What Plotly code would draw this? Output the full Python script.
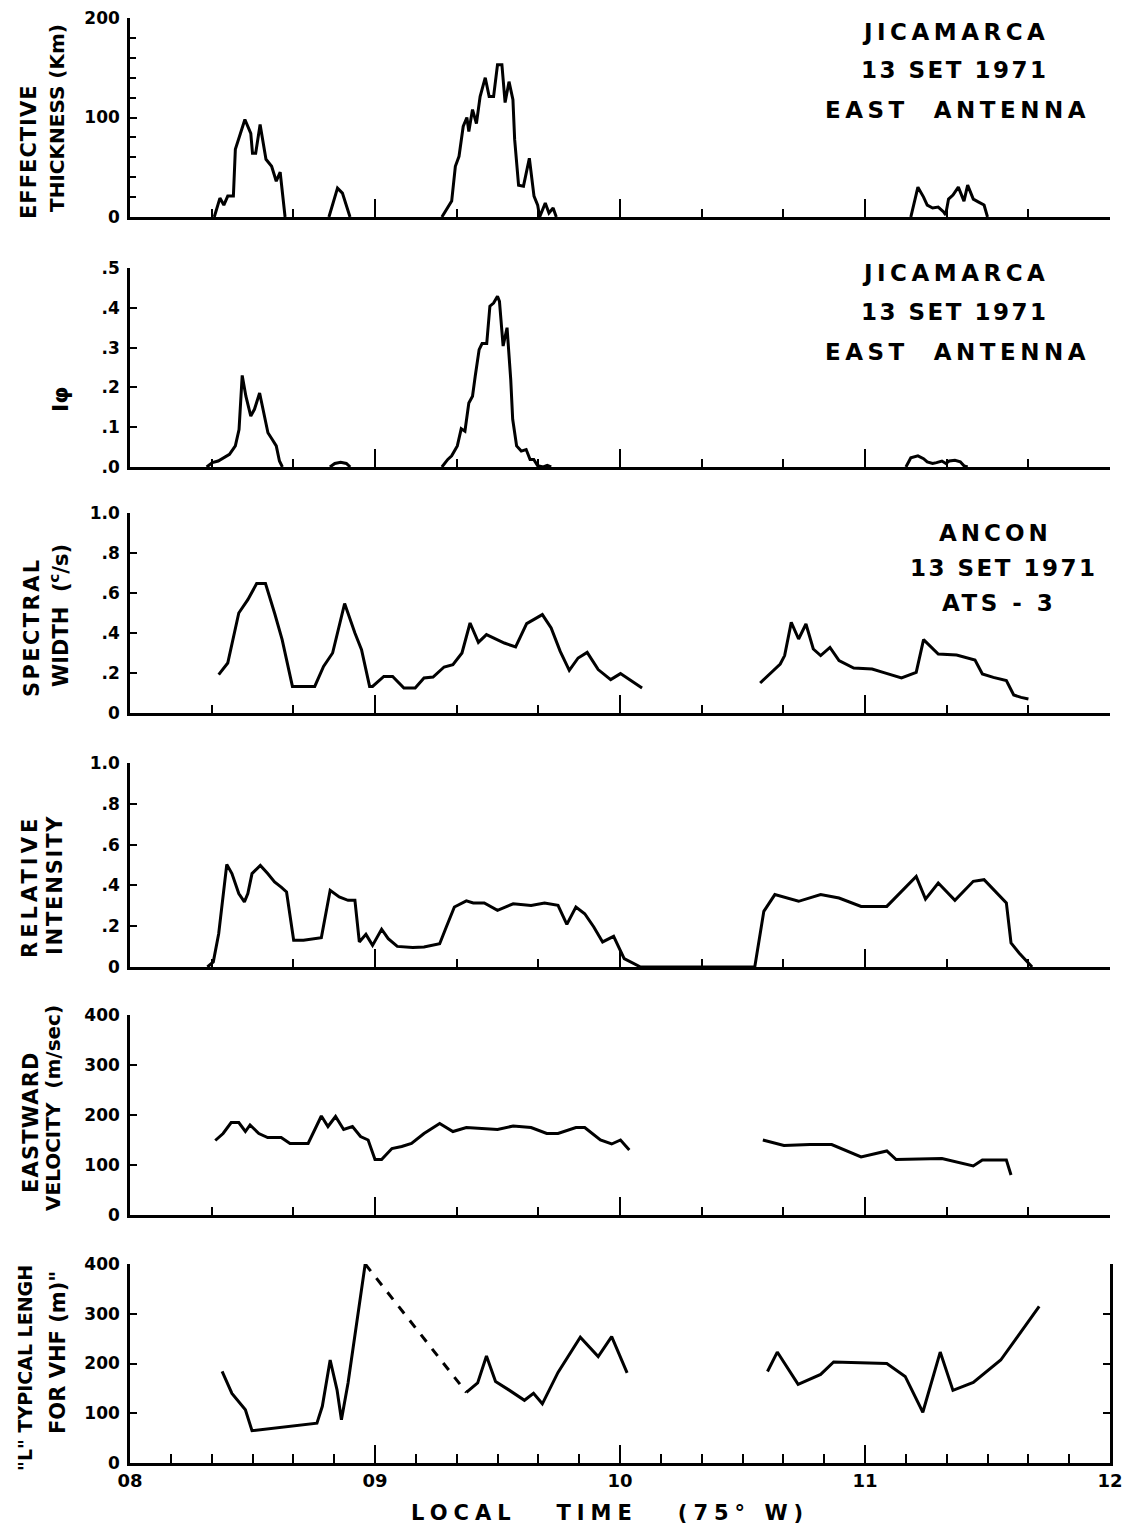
import plotly.graph_objects as go

# The page body keeps a default 8 px margin, so the figure is sized to fit inside it
PAGE_W, PAGE_H = 1136, 1535
OFF = 8
W, H = PAGE_W - 2 * OFF, PAGE_H - 2 * OFF
FONT = "DejaVu Sans"

def px(x):
    return (x - OFF) / W

def py(y):
    return 1 - (y - OFF) / H

# ---------------- DATA (local time in hours) ----------------
# Panel 1: Effective thickness (km), Jicamarca east antenna
thick_t = [8.344, 8.367, 8.383, 8.399, 8.422, 8.43, 8.469, 8.493, 8.5, 8.513, 8.531, 8.555, 8.578, 8.597, 8.613, 8.633,
           None,
           8.812, 8.847, 8.867, 8.898,
           None,
           9.273, 9.313, 9.328, 9.343, 9.36, 9.375, 9.383, 9.398, 9.414, 9.429, 9.45, 9.466, 9.484, 9.5, 9.518, 9.531,
           9.547, 9.563, 9.57, 9.586, 9.606, 9.63, 9.649, 9.664, 9.672, 9.695, 9.71, 9.727, 9.74,
           None,
           11.187, 11.216, 11.239, 11.254, 11.276, 11.299, 11.321, 11.329, 11.341, 11.359, 11.381, 11.404, 11.419,
           11.442, 11.464, 11.486, 11.5]
thick_v = [0, 19, 12, 21, 21, 68, 98, 84, 64, 64, 93, 58, 51, 36, 45, 0,
           None,
           0, 29, 24, 0,
           None,
           0, 16, 51, 61, 91, 100, 86, 108, 94, 121, 140, 121, 121, 153, 153, 115,
           136, 118, 78, 32, 31, 59, 21, 12, 0, 14, 4, 9, 0,
           None,
           0, 30, 20, 12, 9, 10, 5, 2, 18, 22, 30, 16, 32,
           18, 15, 12, 0]

# Panel 2: I-phi
iphi_t = [8.313, 8.336, 8.36, 8.383, 8.406, 8.43, 8.445, 8.458, 8.473, 8.493, 8.508, 8.529, 8.547, 8.563, 8.582,
          8.597, 8.61, 8.622,
          None,
          8.816, 8.836, 8.86, 8.883, 8.899,
          None,
          9.273, 9.297, 9.313, 9.336, 9.352, 9.367, 9.383, 9.398, 9.409, 9.425, 9.437, 9.456, 9.469, 9.484, 9.5,
          9.508, 9.523, 9.539, 9.554, 9.562, 9.578, 9.597, 9.617, 9.633, 9.648, 9.664, 9.687, 9.703, 9.719,
          None,
          11.167, 11.187, 11.216, 11.239, 11.254, 11.276, 11.292, 11.314, 11.33, 11.344, 11.367, 11.389, 11.404, 11.419]
iphi_v = [0, 0.011, 0.015, 0.023, 0.032, 0.053, 0.094, 0.23, 0.178, 0.128, 0.145, 0.186, 0.132, 0.086, 0.068,
          0.053, 0.015, 0,
          None,
          0, 0.009, 0.012, 0.009, 0,
          None,
          0, 0.019, 0.028, 0.053, 0.096, 0.09, 0.161, 0.178, 0.228, 0.295, 0.31, 0.31, 0.404, 0.412, 0.429,
          0.416, 0.304, 0.35, 0.22, 0.12, 0.053, 0.04, 0.044, 0.019, 0.019, 0.003, 0, 0.004, 0,
          None,
          0, 0.023, 0.028, 0.021, 0.013, 0.009, 0.011, 0.015, 0.009, 0.015, 0.017, 0.013, 0.003, 0]

# Panel 3: Spectral width (c/s), Ancon ATS-3
spec_t = [8.362, 8.399, 8.444, 8.481, 8.517, 8.553, 8.59, 8.621, 8.663, 8.754, 8.79, 8.827, 8.876, 8.918, 8.945,
          8.978, 8.99, 9.036, 9.072, 9.118, 9.164, 9.2, 9.237, 9.282, 9.318, 9.355, 9.388, 9.422, 9.455, 9.492,
          9.528, 9.574, 9.619, 9.683, 9.719, 9.756, 9.793, 9.829, 9.866, 9.911, 9.962, 10.002, 10.048, 10.09,
          None,
          10.572, 10.654, 10.672, 10.699, 10.729, 10.759, 10.789, 10.819, 10.857, 10.894, 10.954, 11.029, 11.074,
          11.149, 11.209, 11.239, 11.299, 11.374, 11.449, 11.479, 11.524, 11.577, 11.607, 11.637, 11.667]
spec_v = [0.192, 0.25, 0.5, 0.567, 0.647, 0.647, 0.5, 0.367, 0.133, 0.133, 0.233, 0.3, 0.547, 0.4, 0.317,
          0.133, 0.133, 0.183, 0.183, 0.125, 0.125, 0.175, 0.18, 0.23, 0.242, 0.3, 0.45, 0.353, 0.392, 0.37,
          0.35, 0.33, 0.447, 0.492, 0.425, 0.308, 0.213, 0.275, 0.303, 0.217, 0.167, 0.197, 0.158, 0.125,
          None,
          0.15, 0.245, 0.287, 0.453, 0.37, 0.445, 0.32, 0.287, 0.328, 0.262, 0.225, 0.22, 0.203,
          0.175, 0.203, 0.367, 0.295, 0.29, 0.265, 0.195, 0.178, 0.162, 0.09, 0.078, 0.07]

# Panel 4: Relative intensity
rel_t = [8.316, 8.34, 8.362, 8.395, 8.416, 8.444, 8.467, 8.481, 8.498, 8.532, 8.562, 8.59, 8.617, 8.639, 8.668,
         8.708, 8.781, 8.817, 8.854, 8.89, 8.918, 8.936, 8.963, 8.99, 9.027, 9.054, 9.091, 9.154, 9.2, 9.264,
         9.291, 9.324, 9.373, 9.401, 9.446, 9.5, 9.564, 9.637, 9.692, 9.747, 9.783, 9.82, 9.856, 9.893, 9.929,
         9.974, 10.017, 10.057, 10.084,
         10.55, 10.587, 10.632, 10.729, 10.819, 10.894, 10.984, 11.089, 11.209, 11.247, 11.299, 11.367, 11.442,
         11.486, 11.577, 11.596, 11.629, 11.682]
rel_v = [0, 0.025, 0.163, 0.503, 0.458, 0.36, 0.319, 0.36, 0.458, 0.498, 0.458, 0.417, 0.392, 0.368, 0.131,
         0.131, 0.144, 0.376, 0.343, 0.327, 0.327, 0.123, 0.16, 0.106, 0.185, 0.139, 0.101, 0.095, 0.098, 0.114,
         0.196, 0.294, 0.324, 0.314, 0.314, 0.278, 0.31, 0.302, 0.314, 0.302, 0.209, 0.294, 0.261, 0.196, 0.123,
         0.15, 0.041, 0.016, 0,
         0, 0.273, 0.355, 0.322, 0.355, 0.338, 0.297, 0.297, 0.444, 0.333, 0.412, 0.327, 0.42,
         0.428, 0.314, 0.118, 0.069, 0]

# Panel 5: Eastward velocity (m/sec)
vel_t = [8.348, 8.38, 8.413, 8.444, 8.471, 8.49, 8.526, 8.562, 8.617, 8.653, 8.727, 8.781, 8.808, 8.839, 8.872,
         8.908, 8.941, 8.972, 9.0, 9.027, 9.069, 9.109, 9.149, 9.2, 9.264, 9.318, 9.373, 9.455, 9.5, 9.564,
         9.637, 9.701, 9.747, 9.82, 9.856, 9.92, 9.966, 10.002, 10.038,
         None,
         10.583, 10.669, 10.775, 10.864, 10.984, 11.089, 11.127, 11.314, 11.442, 11.479, 11.577, 11.596]
vel_v = [149, 163, 185, 185, 167, 180, 163, 155, 155, 143, 143, 198, 177, 197, 171,
         177, 157, 150, 111, 111, 133, 137, 143, 163, 183, 167, 175, 173, 171, 178,
         175, 163, 163, 175, 175, 150, 142, 150, 130,
         None,
         150, 139, 141, 141, 116, 128, 111, 113, 98, 110, 110, 80]

# Panel 6: "L" typical length for VHF (m)
len_t = [8.376, 8.416, 8.471, 8.498, 8.763, 8.785, 8.817, 8.845, 8.863, 8.89, 8.96,
         None,
         9.373, 9.419, 9.455, 9.492, 9.546, 9.61, 9.647, 9.683, 9.747, 9.838, 9.911, 9.966, 10.029,
         None,
         10.602, 10.642, 10.727, 10.819, 10.872, 11.089, 11.164, 11.236, 11.307, 11.359, 11.442, 11.554,
         11.614, 11.711]
len_v = [184, 140, 107, 65, 80, 114, 207, 147, 87, 161, 400,
         None,
         142, 161, 215, 164, 147, 126, 140, 119, 182, 253, 214, 254, 181,
         None,
         184, 223, 158, 178, 203, 200, 174, 102, 223, 146, 162, 207,
         248, 315]
len_dash_t = [8.96, 9.373]
len_dash_v = [400, 142]

hour_ticks = [8, 9, 10, 11, 12]
hour_labels = ["08", "09", "10", "11", "12"]

# ---------------- FIGURE ----------------
panels = [
    dict(t=thick_t, v=thick_v, ymax=200, tickvals=[0, 100, 200], ticktext=["0", "100", "200"], yminor=20),
    dict(t=iphi_t, v=iphi_v, ymax=0.5, tickvals=[0, 0.1, 0.2, 0.3, 0.4, 0.5],
         ticktext=[".0", ".1", ".2", ".3", ".4", ".5"], yminor=None),
    dict(t=spec_t, v=spec_v, ymax=1.0, tickvals=[0, 0.2, 0.4, 0.6, 0.8, 1.0],
         ticktext=["0", ".2", ".4", ".6", ".8", "1.0"], yminor=None),
    dict(t=rel_t, v=rel_v, ymax=1.0, tickvals=[0, 0.2, 0.4, 0.6, 0.8, 1.0],
         ticktext=["0", ".2", ".4", ".6", ".8", "1.0"], yminor=None),
    dict(t=vel_t, v=vel_v, ymax=400, tickvals=[0, 100, 200, 300, 400],
         ticktext=["0", "100", "200", "300", "400"], yminor=None),
    dict(t=len_t, v=len_v, ymax=400, tickvals=[0, 100, 200, 300, 400],
         ticktext=["0", "100", "200", "300", "400"], yminor=None),
]

# page-pixel rows (top, bottom) of each plot area
rows_px = [(18, 217), (268, 467), (513, 713), (763, 967), (1015, 1215), (1264, 1463)]
x_dom = [px(130), px(1110)]

fig = go.Figure()
line_style = dict(color="black", width=3)

layout = dict(
    width=W, height=H, autosize=False,
    margin=dict(l=0, r=0, t=0, b=0),
    paper_bgcolor="white", plot_bgcolor="white",
    showlegend=False,
    font=dict(family=FONT, color="black"),
)

n = len(panels)
for i, p in enumerate(panels):
    k = "" if i == 0 else str(i + 1)
    xa, ya = "x" + k, "y" + k
    fig.add_trace(go.Scatter(x=p["t"], y=p["v"], mode="lines", line=line_style,
                             connectgaps=False, xaxis=xa, yaxis=ya, hoverinfo="skip"))
    last = (i == n - 1)
    top, bot = rows_px[i]
    layout["xaxis" + k] = dict(
        domain=x_dom, range=[8, 12], anchor=ya,
        showline=True, linecolor="black", linewidth=2.5,
        showgrid=False, zeroline=False,
        ticks="inside", ticklen=18, tickwidth=2, tickcolor="black",
        tickvals=hour_ticks, ticktext=hour_labels,
        showticklabels=last, ticklabeloverflow="allow",
        tickfont=dict(family=FONT, size=18, color="black", weight="bold"),
        minor=dict(ticks="inside", ticklen=8 if not last else 9, tickwidth=1.5, tickcolor="black",
                   tick0=8, dtick=(1 / 6 if last else 1 / 3), showgrid=False),
        automargin=False,
    )
    yd = dict(
        domain=[py(bot), py(top)], range=[0, p["ymax"]], anchor=xa,
        showline=True, linecolor="black", linewidth=2.5,
        showgrid=False, zeroline=False,
        ticks="inside", ticklen=7, tickwidth=2, tickcolor="black",
        tickvals=p["tickvals"], ticktext=p["ticktext"],
        tickfont=dict(family=FONT, size=17, color="black", weight="bold"),
        ticklabelstandoff=4, ticklabeloverflow="allow",
        automargin=False,
    )
    if p["yminor"]:
        yd["minor"] = dict(ticks="inside", ticklen=6, tickwidth=1.5, tickcolor="black",
                           dtick=p["yminor"], showgrid=False)
    if last:
        yd["mirror"] = "ticks"
    layout["yaxis" + k] = yd

# dashed segment of the bottom panel
fig.add_trace(go.Scatter(x=len_dash_t, y=len_dash_v, mode="lines",
                         line=dict(color="black", width=3, dash="dash"),
                         xaxis="x6", yaxis="y6", hoverinfo="skip"))

fig.update_layout(**layout)

def ann(text, x, y, size, angle=0, spacing=0):
    if spacing:
        text = '<span style="letter-spacing:%spx">%s</span>' % (spacing, text)
    fig.add_annotation(text="<b>" + text + "</b>", x=px(x), y=py(y), xref="paper", yref="paper",
                       xanchor="center", yanchor="middle", showarrow=False, textangle=angle,
                       font=dict(family=FONT, size=size, color="black"))

# station labels
ann("JICAMARCA", 955, 32, 23, spacing=4.5)
ann("13 SET 1971", 955, 70, 23, spacing=2.5)
ann("EAST\u00a0\u00a0ANTENNA", 957, 110, 23, spacing=4.5)
ann("JICAMARCA", 955, 273, 23, spacing=4.5)
ann("13 SET 1971", 955, 312, 23, spacing=2.5)
ann("EAST\u00a0\u00a0ANTENNA", 957, 352, 23, spacing=4.5)
ann("ANCON", 995, 533, 23, spacing=4)
ann("13 SET 1971", 1004, 568, 23, spacing=2.5)
ann("ATS - 3", 999, 603, 23, spacing=3.5)

# y-axis titles (rotated)
ann("EFFECTIVE", 29, 152, 21, angle=-90, spacing=1)
ann("THICKNESS (Km)", 57, 118, 20, angle=-90)
ann("I\u03c6", 60, 400, 22, angle=-90)
ann("SPECTRAL", 32, 627, 21, angle=-90, spacing=2.4)
ann("WIDTH\u00a0\u00a0(<sup>c</sup>/s)", 59, 616, 21, angle=-90)
ann("RELATIVE", 30, 887, 21, angle=-90, spacing=4)
ann("INTENSITY", 55, 885, 21, angle=-90, spacing=1.8)
ann("EASTWARD", 31, 1122, 21, angle=-90, spacing=1.2)
ann("VELOCITY\u00a0\u00a0(m/sec)", 53, 1108, 20, angle=-90)
ann("\"L\" TYPICAL LENGH", 25, 1368, 19, angle=-90)
ann("FOR VHF (m)\"", 58, 1353, 21, angle=-90)

# x-axis title
ann("LOCAL\u00a0\u00a0\u00a0TIME\u00a0\u00a0\u00a0(75\u00b0 W)", 610, 1513, 21, spacing=6)

fig.write_html("out.html")
